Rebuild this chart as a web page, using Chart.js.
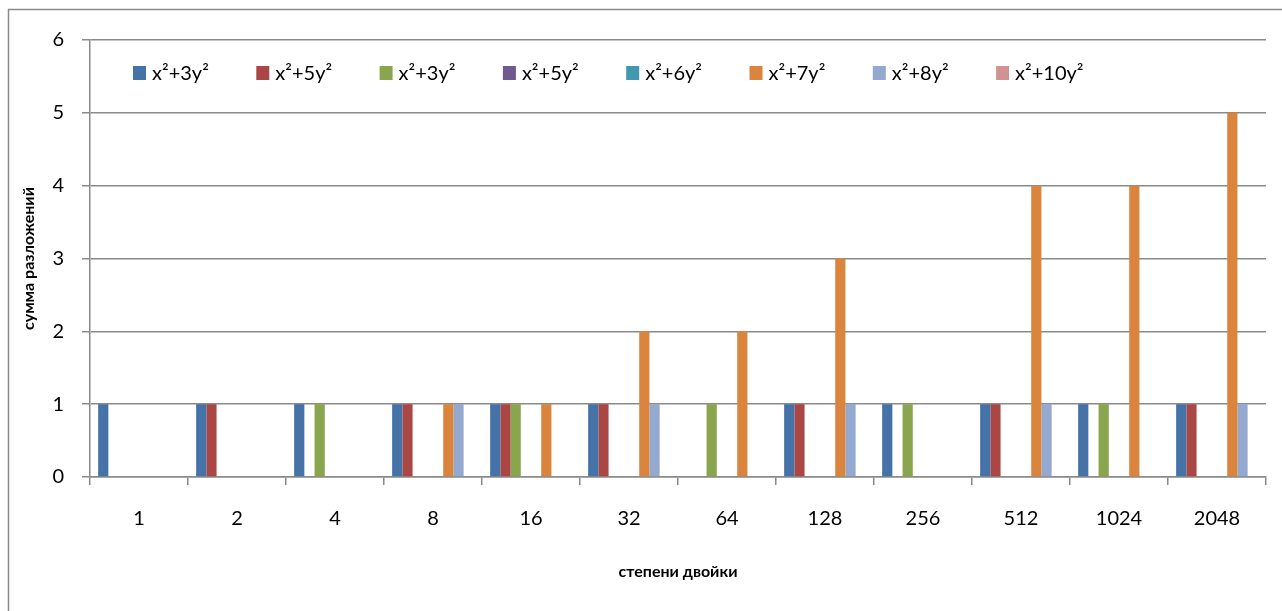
<!DOCTYPE html>
<html lang="ru">
<head>
<meta charset="UTF-8">
<title>степени двойки</title>
<script src="https://cdn.jsdelivr.net/npm/chart.js"></script>
<style>
  body { margin: 0; background: #fff; }
  #wrap { width: 1282px; height: 611px; }
</style>
</head>
<body>
<div id="wrap"><canvas id="chart" width="1282" height="611"></canvas></div>
<script>
// categories: powers of two
var categories = ['1', '2', '4', '8', '16', '32', '64', '128', '256', '512', '1024', '2048'];
var seriesNames = ['x²+3y²', 'x²+5y²', 'x²+3y²', 'x²+5y²', 'x²+6y²', 'x²+7y²', 'x²+8y²', 'x²+10y²'];
var seriesColors = ['#4572A7', '#AA4643', '#89A54E', '#71588F', '#4198AF', '#DB843D', '#93A9CF', '#D19392'];

var x2p3y2 = [1, 1, 1, 1, 1, 1, 0, 1, 1, 1, 1, 1];
var x2p5y2 = [0, 1, 0, 1, 1, 1, 0, 1, 0, 1, 0, 1];
var x2p3y2b = [0, 0, 1, 0, 1, 0, 1, 0, 1, 0, 1, 0];
var x2p5y2b = [0, 0, 0, 0, 0, 0, 0, 0, 0, 0, 0, 0];
var x2p6y2 = [0, 0, 0, 0, 0, 0, 0, 0, 0, 0, 0, 0];
var x2p7y2 = [0, 0, 0, 1, 1, 2, 2, 3, 0, 4, 4, 5];
var x2p8y2 = [0, 0, 0, 1, 0, 1, 0, 1, 0, 1, 0, 1];
var x2p10y2 = [0, 0, 0, 0, 0, 0, 0, 0, 0, 0, 0, 0];

var seriesValues = [x2p3y2, x2p5y2, x2p3y2b, x2p5y2b, x2p6y2, x2p7y2, x2p8y2, x2p10y2];

var yTicks = [0, 1, 2, 3, 4, 5, 6];

var FONT = 'Lato, "Open Sans", sans-serif';
var GRID = '#8a8a8a';

var datasets = seriesNames.map(function (name, i) {
    return {
        label: name,
        data: seriesValues[i],
        backgroundColor: seriesColors[i],
        borderWidth: 0,
        categoryPercentage: 0.834,
        barPercentage: 1.0
    };
});

// white background + outer frame (top and left edges only)
var framePlugin = {
    id: 'frame',
    beforeDraw: function (chart) {
        var ctx = chart.ctx;
        ctx.save();
        ctx.fillStyle = '#fff';
        ctx.fillRect(0, 0, chart.width, chart.height);
        ctx.strokeStyle = GRID;
        ctx.lineWidth = 1.5;
        ctx.beginPath();
        ctx.moveTo(8.5, chart.height);
        ctx.lineTo(8.5, 9.5);
        ctx.lineTo(chart.width, 9.5);
        ctx.stroke();
        ctx.restore();
    }
};

// legend drawn inside the plot area, evenly spaced like the original
var insideLegend = {
    id: 'insideLegend',
    afterDraw: function (chart) {
        var ctx = chart.ctx;
        var area = chart.chartArea;
        var startX = area.left + 43;
        var step = 123.3;
        var midY = area.top + 33;
        ctx.save();
        ctx.font = '20px ' + FONT;
        ctx.textBaseline = 'middle';
        ctx.textAlign = 'left';
        chart.data.datasets.forEach(function (ds, i) {
            var x = startX + i * step;
            ctx.fillStyle = ds.backgroundColor;
            ctx.fillRect(x, midY - 7, 13, 14);
            ctx.fillStyle = '#000';
            ctx.fillText(ds.label, x + 19, midY + 1);
        });
        ctx.restore();
    }
};

new Chart(document.getElementById('chart'), {
    type: 'bar',
    data: {
        labels: categories,
        datasets: datasets
    },
    plugins: [framePlugin, insideLegend],
    options: {
        responsive: false,
        animation: false,
        devicePixelRatio: 1,
        layout: {
            padding: { left: 8, top: 40, right: 16, bottom: 0 }
        },
        plugins: {
            legend: { display: false },
            tooltip: { enabled: false }
        },
        scales: {
            x: {
                afterFit: function (s) { s.height = 134; },
                grid: {
                    display: true,
                    drawOnChartArea: false,
                    drawTicks: true,
                    tickLength: 8,
                    color: GRID,
                    lineWidth: 1.5,
                    offset: true
                },
                border: { display: true, color: GRID, width: 1.5 },
                ticks: {
                    color: '#000',
                    font: { family: FONT, size: 20 },
                    padding: 22,
                    maxRotation: 0
                },
                title: {
                    display: true,
                    text: 'степени двойки',
                    color: '#000',
                    font: { family: FONT, size: 16, weight: 'bold' },
                    padding: { top: 0, bottom: 30 }
                }
            },
            y: {
                min: yTicks[0],
                max: yTicks[yTicks.length - 1],
                afterFit: function (s) { s.width = 82; },
                afterBuildTicks: function (s) {
                    s.ticks = yTicks.map(function (v) { return { value: v }; });
                },
                grid: {
                    color: GRID,
                    lineWidth: 1.5,
                    drawTicks: true,
                    tickLength: 8
                },
                border: { display: true, color: GRID, width: 1.5 },
                ticks: {
                    color: '#000',
                    font: { family: FONT, size: 20 },
                    padding: 18
                },
                title: {
                    display: true,
                    text: 'сумма разложений',
                    color: '#000',
                    font: { family: FONT, size: 16, weight: 'bold' },
                    padding: { top: 11, bottom: 0 }
                }
            }
        }
    }
});
</script>
</body>
</html>
